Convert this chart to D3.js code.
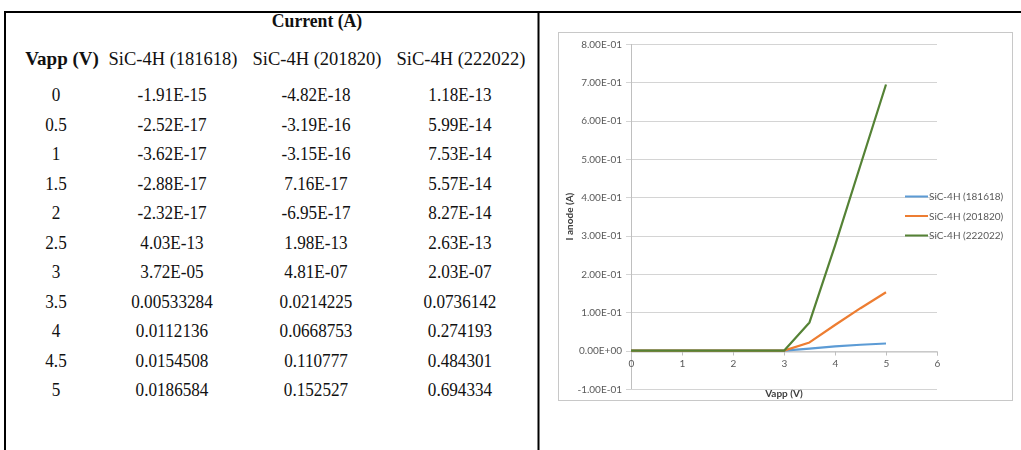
<!DOCTYPE html>
<html>
<head>
<meta charset="utf-8">
<script src="https://cdn.jsdelivr.net/npm/d3@7"></script>
<style>
  html, body { margin: 0; padding: 0; background: #fff; }
  svg { display: block; }
</style>
</head>
<body>
<svg id="fig" width="1021" height="450"></svg>
<script>
// Applied voltage (V)
const vapp = [0, 0.5, 1, 1.5, 2, 2.5, 3, 3.5, 4, 4.5, 5];
// Anode current (A) for each SiC-4H structure
const seriesNames = ["SiC-4H (181618)", "SiC-4H (201820)", "SiC-4H (222022)"];
const current181618 = [-1.91e-15, -2.52e-17, -3.62e-17, -2.88e-17, -2.32e-17, 4.03e-13, 3.72e-05, 0.00533284, 0.0112136, 0.0154508, 0.0186584];
const current201820 = [-4.82e-18, -3.19e-16, -3.15e-16, 7.16e-17, -6.95e-17, 1.98e-13, 4.81e-07, 0.0214225, 0.0668753, 0.110777, 0.152527];
const current222022 = [1.18e-13, 5.99e-14, 7.53e-14, 5.57e-14, 8.27e-14, 2.63e-13, 2.03e-07, 0.0736142, 0.274193, 0.484301, 0.694334];
const seriesColors = ["#5b9bd5", "#ed7d31", "#548235"];
// Axis ticks
const xTicks = [0, 1, 2, 3, 4, 5, 6];
const yTicks = [-0.1, 0, 0.1, 0.2, 0.3, 0.4, 0.5, 0.6, 0.7, 0.8];

const allSeries = [current181618, current201820, current222022];
const svg = d3.select("#fig");

const defs = svg.append("defs");
defs.append("filter").attr("id", "soft").attr("x", "-5%").attr("y", "-5%").attr("width", "110%").attr("height", "110%")
  .append("feGaussianBlur").attr("stdDeviation", 0.35);

// ---------- Table (left) ----------
const serif = "'Liberation Serif', 'Times New Roman', serif";
const table = svg.append("g");

// frame lines
table.append("line").attr("x1", 4).attr("x2", 1021).attr("y1", 12).attr("y2", 12)
  .attr("stroke", "#000").attr("stroke-width", 2);
table.append("line").attr("x1", 5).attr("x2", 5).attr("y1", 11).attr("y2", 450)
  .attr("stroke", "#000").attr("stroke-width", 2);
table.append("line").attr("x1", 538.5).attr("x2", 538.5).attr("y1", 11).attr("y2", 450)
  .attr("stroke", "#000").attr("stroke-width", 2);

const colX = [56, 172, 316, 460];
const headX = [62, 173, 317, 461];
const rowY = d3.scaleLinear().domain([0, vapp.length - 1]).range([101, 396]);
const cellSqueeze = 0.88;   // narrow numeric face

// exponent formatting like 3.72E-05
function sci(v) {
  const [m, e] = v.toExponential(2).split("e");
  const n = +e;
  return m + "E" + (n < 0 ? "-" : "+") + String(Math.abs(n)).padStart(2, "0");
}
function cell(v) {
  return Math.abs(v) < 1e-4 ? sci(v) : String(v);
}

table.append("text").attr("transform", "translate(317,27) scale(0.93,1)")
  .attr("text-anchor", "middle").attr("font-family", serif).attr("font-size", 19)
  .attr("font-weight", "bold").attr("fill", "#111").text("Current (A)");

const headers = ["Vapp (V)"].concat(seriesNames);
table.selectAll("text.head").data(headers).join("text")
  .attr("class", "head")
  .attr("x", (d, i) => headX[i]).attr("y", 65)
  .attr("text-anchor", "middle").attr("font-family", serif)
  .attr("font-size", (d, i) => i === 0 ? 19 : 18.5)
  .attr("font-weight", (d, i) => i === 0 ? "bold" : "normal")
  .attr("fill", "#111")
  .text(d => d);

vapp.forEach((v, r) => {
  const cells = [String(v)].concat(allSeries.map(s => cell(s[r])));
  table.selectAll(null).data(cells).join("text")
    .attr("transform", (d, i) => `translate(${colX[i]},${rowY(r)}) scale(${cellSqueeze},1)`)
    .attr("text-anchor", "middle").attr("font-family", serif).attr("font-size", 19.5)
    .attr("fill", "#111")
    .text(d => d);
});

// ---------- Chart (right) ----------
const sans = "Lato, 'Open Sans', sans-serif";
const chart = svg.append("g").attr("filter", "url(#soft)");
chart.append("rect").attr("x", 558.5).attr("y", 32.5).attr("width", 454).attr("height", 368)
  .attr("fill", "#fff").attr("stroke", "#c8c8c8").attr("stroke-width", 1);

const x = d3.scaleLinear().domain([0, 6]).range([631, 937]);
const y = d3.scaleLinear().domain([-0.1, 0.8]).range([389, 44]);

// horizontal gridlines
chart.append("g").selectAll("line").data(yTicks).join("line")
  .attr("x1", x(0) - 5).attr("x2", x(6))
  .attr("y1", d => Math.round(y(d)) + 0.5).attr("y2", d => Math.round(y(d)) + 0.5)
  .attr("stroke", "#d4d4d4").attr("stroke-width", 1);

// y axis line
chart.append("line").attr("x1", x(0) + 0.5).attr("x2", x(0) + 0.5)
  .attr("y1", y(0.8)).attr("y2", y(-0.1)).attr("stroke", "#bfbfbf");

// x axis at zero with ticks
const xAxis = d3.axisBottom(x).tickValues(xTicks).tickSize(4).tickPadding(4).tickFormat(d3.format("d"));
const gx = chart.append("g").attr("transform", `translate(0,${Math.round(y(0)) + 0.5})`).call(xAxis);
gx.select(".domain").attr("stroke", "#bfbfbf");
gx.selectAll(".tick line").attr("stroke", "#bfbfbf");
gx.selectAll(".tick text").attr("font-family", sans).attr("font-size", 10).attr("fill", "#595959");

// y tick labels
chart.append("g").selectAll("text").data(yTicks).join("text")
  .attr("x", x(0) - 9).attr("y", d => y(d)).attr("dy", "0.35em")
  .attr("text-anchor", "end").attr("font-family", sans).attr("font-size", 10)
  .attr("fill", "#595959").text(d => sci(Math.abs(d) < 1e-12 ? 0 : d));

// series lines
const line = d3.line().x((d, i) => x(vapp[i])).y(d => y(d));
chart.append("g").selectAll("path").data(allSeries).join("path")
  .attr("d", line).attr("fill", "none")
  .attr("stroke", (d, i) => seriesColors[i]).attr("stroke-width", 2.2)
  .attr("stroke-linejoin", "round");

// axis titles
chart.append("text").attr("transform", `translate(573,${(y(0.8) + y(-0.1)) / 2}) rotate(-90)`)
  .attr("text-anchor", "middle").attr("font-family", sans).attr("font-size", 10)
  .attr("font-weight", "bold").attr("fill", "#404040").text("I anode (A)");
chart.append("text").attr("x", (x(0) + x(6)) / 2).attr("y", 397)
  .attr("text-anchor", "middle").attr("font-family", sans).attr("font-size", 10)
  .attr("font-weight", "bold").attr("fill", "#404040").text("Vapp (V)");

// legend
const legend = chart.append("g").selectAll("g").data(seriesNames).join("g")
  .attr("transform", (d, i) => `translate(905,${196.5 + i * 19.5})`);
legend.append("line").attr("x1", 0).attr("x2", 23).attr("y1", 0).attr("y2", 0)
  .attr("stroke", (d, i) => seriesColors[i]).attr("stroke-width", 2);
legend.append("text").attr("x", 24).attr("y", 0).attr("dy", "0.35em")
  .attr("font-family", sans).attr("font-size", 10).attr("fill", "#595959").text(d => d);
</script>
</body>
</html>
